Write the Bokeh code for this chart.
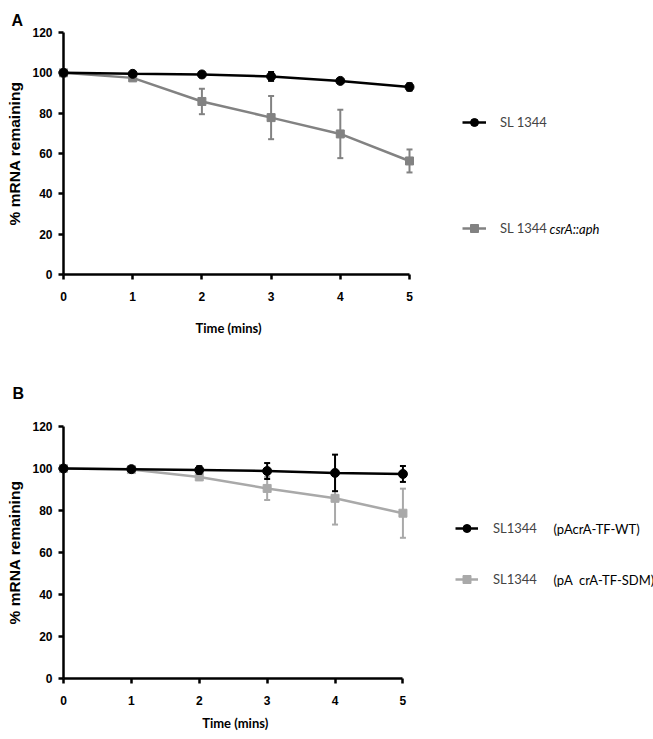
from bokeh.plotting import figure
from bokeh.models import (Range1d, FixedTicker, ColumnDataSource, Legend, LegendItem,
                          Label)
from bokeh.core.properties import value
from bokeh.layouts import column
from bokeh.embed import file_html
from bokeh.resources import INLINE

# ---- data ----
time_min = [0, 1, 2, 3, 4, 5]
x_ticks = [0, 1, 2, 3, 4, 5]
y_ticks = [0, 20, 40, 60, 80, 100, 120]
x_title = "Time (mins)"
y_title = "% mRNA remaining"

# Panel A
a_wt = [100, 99.5, 99.2, 98.2, 96.0, 93.0]
a_wt_err = [0.5, 0.6, 0.6, 2.2, 0.8, 1.8]
a_mut = [100, 97.5, 85.8, 77.8, 69.7, 56.3]
a_mut_err = [0.5, 0.8, 6.3, 10.7, 12.0, 5.7]
a_labels = ["SL 1344", "SL 1344"]
a_italic = "csrA::aph"

# Panel B
b_wt = [100, 99.7, 99.3, 98.8, 97.9, 97.4]
b_wt_err = [0.5, 0.5, 1.8, 3.8, 8.7, 3.8]
b_mut = [100, 99.5, 96.0, 90.5, 85.8, 78.7]
b_mut_err = [0.5, 0.5, 1.5, 5.5, 12.5, 11.7]
b_labels = ["SL1344", "SL1344"]
b_suffix = ["(pAcrA-TF-WT)", "(pA  crA-TF-SDM)"]

BLACK = "#000000"
GRAY_A = "#828282"
GRAY_B = "#a9a9a9"
W = 653
X_MAX = 5
Y_MAX = 120


class Panel:
    """left/axis_right/top/bottom: pixel geometry of the drawn axes inside the figure"""

    def __init__(self, h, left, axis_right, top, bottom):
        self.left, self.top, self.bottom = left, top, bottom
        # the frame runs to the right edge so that the legend fits inside it;
        # the visible axis is limited to 0..5 by its bounds
        x_end = X_MAX * (W - left) / (axis_right - left)
        p = figure(width=W, height=h, output_backend="svg", toolbar_location=None,
                   x_range=Range1d(0, x_end), y_range=Range1d(0, Y_MAX),
                   min_border_left=left, min_border_right=0,
                   min_border_top=top, min_border_bottom=h - bottom)
        p.outline_line_color = None
        p.grid.visible = False
        p.xaxis.bounds = (0, X_MAX)
        p.yaxis.bounds = (0, Y_MAX)
        for ax in (p.xaxis[0], p.yaxis[0]):
            ax.axis_line_width = 2.5
            ax.major_tick_line_width = 2.5
            ax.major_tick_out = 5
            ax.major_tick_in = 0
            ax.minor_tick_line_color = None
            ax.major_label_text_font = "Liberation Sans"
            ax.major_label_text_font_style = "bold"
            ax.major_label_text_font_size = "12px"
            ax.major_label_text_color = "black"
            ax.axis_label_text_font_style = "bold"
            ax.axis_label_text_color = "black"
        p.xaxis.ticker = FixedTicker(ticks=x_ticks)
        p.yaxis.ticker = FixedTicker(ticks=y_ticks)
        p.xaxis.major_label_standoff = 12
        p.yaxis.major_label_standoff = 6
        p.yaxis.axis_label = y_title
        p.yaxis.axis_label_text_font = "Liberation Sans"
        p.yaxis.axis_label_text_font_size = "15.5px"
        p.yaxis.axis_label_standoff = 6
        self.p = p
        self.xscale = (axis_right - left) / X_MAX
        self.yscale = (bottom - top) / Y_MAX

    def series(self, y, err, color, marker, size):
        p = self.p
        src = ColumnDataSource(dict(x=time_min, y=y,
                                    upper=[v + e for v, e in zip(y, err)],
                                    lower=[v - e for v, e in zip(y, err)]))
        ln = p.line("x", "y", source=src, line_color=color, line_width=2.5, level="overlay")
        p.segment(x0="x", y0="lower", x1="x", y1="upper", source=src,
                  line_color=color, line_width=2, level="overlay")
        p.scatter("x", "upper", source=src, marker="dash", size=6,
                  line_color=color, line_width=2, level="overlay")
        p.scatter("x", "lower", source=src, marker="dash", size=6,
                  line_color=color, line_width=2, level="overlay")
        sc = p.scatter("x", "y", source=src, marker=marker, size=size,
                       fill_color=color, line_color=color, level="overlay")
        return [ln, sc]

    def label(self, px, py, txt, style="normal"):
        # px, py: pixel position within the figure (from top-left)
        txt = txt.replace("  ", " \u00a0")
        self.p.add_layout(Label(x=px - self.left, y=self.bottom - py,
                                x_units="screen", y_units="screen", text=txt,
                                text_font="Lato", text_font_size="13px",
                                text_font_style=style, text_color="black",
                                text_baseline="middle"))

    def free_text(self, px, py, txt, font, size, align, baseline):
        # text outside the frame: drawn as an unclipped text glyph
        x = (px - self.left) / self.xscale
        y = (self.bottom - py) / self.yscale
        self.p.text(x=[x], y=[y], text=[txt], text_font=value(font),
                    text_font_size=size, text_font_style="bold", text_color="black",
                    text_baseline=baseline, text_align=align, level="overlay")

    def legend(self, items, px, py_bottom, spacing, glyph_w, standoff):
        leg = Legend(items=items, location=(px - self.left, self.bottom - py_bottom),
                     spacing=spacing, padding=0, margin=0,
                     border_line_color=None, background_fill_alpha=0,
                     glyph_width=glyph_w, glyph_height=20, label_height=20,
                     label_standoff=standoff,
                     label_text_font="Lato", label_text_font_size="13px")
        self.p.add_layout(leg)


# ---- Panel A (page y 0..360) ----
A = Panel(360, 63, 409, 32, 274)
ga = A.series(a_mut, a_mut_err, GRAY_A, "square", 8)
ka = A.series(a_wt, a_wt_err, BLACK, "circle", 9)
A.legend([LegendItem(label=a_labels[0], renderers=ka),
          LegendItem(label=a_labels[1], renderers=ga)], 462, 238, 86, 24, 14)
A.label(549, 228, a_italic, style="italic")
A.free_text(11, 20, "A", "Liberation Sans", "16px", "left", "alphabetic")
A.free_text(228, 327, x_title, "Lato", "13px", "center", "middle")

# ---- Panel B (page y 360..739) ----
B = Panel(379, 62, 402, 66, 318)
gb = B.series(b_mut, b_mut_err, GRAY_B, "square", 8)
kb = B.series(b_wt, b_wt_err, BLACK, "circle", 9)
B.legend([LegendItem(label=b_labels[0], renderers=kb),
          LegendItem(label=b_labels[1], renderers=gb)], 454, 229.3, 31, 23, 15)
B.label(552, 168.3, b_suffix[0])
B.label(552, 219.3, b_suffix[1])
B.free_text(11, 33, "B", "Liberation Sans", "16px", "left", "alphabetic")
B.free_text(234, 362, x_title, "Lato", "13px", "center", "middle")

layout = column(A.p, B.p)
open("out.html", "w").write(file_html(layout, INLINE))
